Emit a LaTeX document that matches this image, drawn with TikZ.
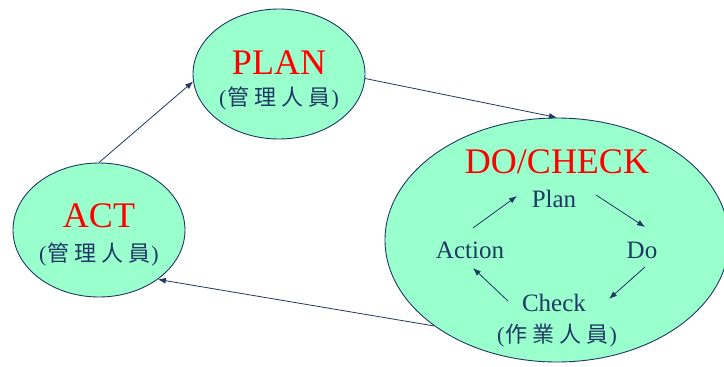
\documentclass[tikz,border=0pt]{standalone}
\usepackage{fontspec}
\setmainfont{Liberation Serif}
\newfontfamily\cjk{Noto Sans CJK TC}
\usetikzlibrary{shapes.geometric,arrows.meta}
\definecolor{bubble}{RGB}{153,255,204}
\definecolor{ink}{RGB}{31,56,100}
\definecolor{title}{RGB}{255,0,0}
\tikzset{
  bubble/.style={ellipse, draw=ink, line width=0.9pt, fill=bubble, inner sep=0pt},
  head/.style={text=title, font=\fontsize{36}{40}\selectfont, inner sep=0pt},
  sub/.style={text=ink, font=\fontsize{22}{24}\selectfont, inner sep=0pt},
  phase/.style={text=ink, font=\fontsize{25}{28}\selectfont, inner sep=0pt},
  flow/.style={draw=ink, line width=0.8pt, -{Latex[length=8pt,width=6pt]}}
}
\newcommand{\staff}[4]{(\hspace{1pt}{\cjk#1\hspace{5pt}#2\hspace{5pt}#3\hspace{5pt}#4}\hspace{1pt})}
\begin{document}
\begin{tikzpicture}[x=1pt,y=-1pt]
  \clip (0,0) rectangle (724,367);
  \fill[white] (0,0) rectangle (724,367);

  % the three stages
  \node[bubble, minimum width=172pt, minimum height=130pt] (plan) at (279,74) {};
  \node[bubble, minimum width=172pt, minimum height=134pt] (act) at (99,230) {};
  \node[bubble, minimum width=344pt, minimum height=244pt] (do) at (557,240) {};

  % stage titles
  \node[head] (tplan) at (279,63) {PLAN};
  \node[sub] (splan) at (279,99) {\staff{管}{理}{人}{員}};
  \node[head] (tact) at (99,216) {ACT};
  \node[sub] (sact) at (99,255) {\staff{管}{理}{人}{員}};
  \node[head] (tdo) at (557,162) {DO/CHECK};

  % inner cycle
  \node[phase] (iplan) at (554,199) {Plan};
  \node[phase] (ido) at (642,250) {Do};
  \node[phase] (icheck) at (554,303) {Check};
  \node[phase] (iact) at (470,250) {Action};
  \node[sub] (sdo) at (557,336) {\staff{作}{業}{人}{員}};

  \draw[flow] ([shift={(3,-22)}]iact.center) -- ([shift={(-37,-3)}]iplan.center);
  \draw[flow] ([shift={(42,-4)}]iplan.center) -- ([shift={(3,-23)}]ido.center);
  \draw[flow] ([shift={(3,17)}]ido.center) -- ([shift={(55,-4)}]icheck.center);
  \draw[flow] ([shift={(-46,-2)}]icheck.center) -- ([shift={(3,18)}]iact.center);

  % outer cycle
  \draw[flow] (act.90) -- (plan.185);
  \draw[flow] (plan.357) -- (do.90);
  \draw[flow] (do.215) -- (act.320);
\end{tikzpicture}
\end{document}
